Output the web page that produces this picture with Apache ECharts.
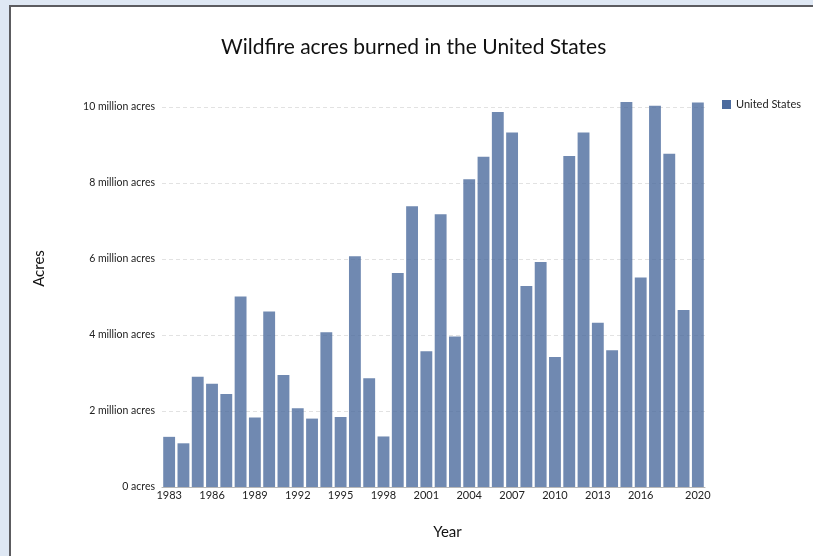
<!DOCTYPE html>
<html>
<head>
<meta charset="utf-8">
<script src="https://cdn.jsdelivr.net/npm/echarts@6/dist/echarts.min.js"></script>
<style>
  html, body { margin: 0; padding: 0; width: 813px; height: 556px; overflow: hidden; background: #dfe8f4; }
  #panel { position: absolute; left: 9px; top: 5px; width: 900px; height: 700px; background: #fff;
           border-left: 2px solid #5c5c60; border-top: 2px solid #5c5c60; }
  #chart { position: absolute; left: 0; top: 0; width: 813px; height: 556px; }
</style>
</head>
<body>
<div id="panel"></div>
<div id="chart"></div>
<script>
// Acres burned per year (millions)
const years = ['1983','1984','1985','1986','1987','1988','1989','1990','1991','1992',
  '1993','1994','1995','1996','1997','1998','1999','2000','2001','2002',
  '2003','2004','2005','2006','2007','2008','2009','2010','2011','2012',
  '2013','2014','2015','2016','2017','2018','2019','2020'];
const acresMillions = [1.32, 1.15, 2.90, 2.72, 2.45, 5.01, 1.83, 4.62, 2.95, 2.07,
  1.80, 4.07, 1.84, 6.07, 2.86, 1.33, 5.63, 7.39, 3.57, 7.18,
  3.96, 8.10, 8.69, 9.87, 9.33, 5.29, 5.92, 3.42, 8.71, 9.33,
  4.32, 3.60, 10.13, 5.51, 10.03, 8.77, 4.66, 10.12];
const yTicks = [0, 2, 4, 6, 8, 10];
const shownYearLabels = ['1983','1986','1989','1992','1995','1998','2001','2004',
  '2007','2010','2013','2016','2020'];

const seriesName = 'United States';
const font = 'Lato, "Open Sans", sans-serif';

const chart = echarts.init(document.getElementById('chart'));
const showYear = (i) => shownYearLabels.indexOf(years[i]) !== -1;

chart.setOption({
  animation: false,
  textStyle: { fontFamily: font },
  title: {
    text: 'Wildfire acres burned in the United States',
    left: 216,
    top: 32,
    textStyle: { fontFamily: font, fontSize: 21, fontWeight: 'normal', color: '#111' }
  },
  legend: {
    data: [seriesName],
    left: 722,
    top: 99,
    padding: 0,
    icon: 'rect',
    itemWidth: 9,
    itemHeight: 9,
    itemGap: 5,
    itemStyle: { opacity: 1 },
    textStyle: { fontFamily: font, fontSize: 11, color: '#222' }
  },
  grid: { left: 162, right: 108, top: 50, bottom: 69, containLabel: false },
  xAxis: {
    type: 'category',
    data: years,
    name: 'Year',
    nameLocation: 'middle',
    nameGap: 38,
    nameTextStyle: { fontFamily: font, fontSize: 15, color: '#111', padding: [0, 0, 0, 28] },
    axisLine: { lineStyle: { color: '#b8b8b8', width: 1 } },
    axisTick: { alignWithLabel: true, length: 4, interval: (i) => showYear(i), lineStyle: { color: '#b8b8b8' } },
    axisLabel: { interval: (i) => showYear(i), fontSize: 11, color: '#222', margin: 3, fontFamily: font },
    splitLine: { show: false }
  },
  yAxis: {
    type: 'value',
    min: 0,
    max: 11.5,
    interval: 2,
    name: 'Acres',
    nameLocation: 'middle',
    nameGap: 115,
    nameTextStyle: { fontFamily: font, fontSize: 15, color: '#111' },
    axisLine: { show: false },
    axisTick: { show: false },
    axisLabel: {
      fontSize: 10.5, color: '#222', margin: 7, fontFamily: font, showMaxLabel: false,
      formatter: (v) => yTicks.indexOf(v) === -1 ? '' : (v === 0 ? '0 acres' : v + ' million acres')
    },
    splitLine: { show: true, showMaxLine: false, lineStyle: { color: '#e2e2e2', type: [4, 3], width: 1 } }
  },
  series: [{
    name: seriesName,
    type: 'bar',
    data: acresMillions,
    barCategoryGap: '17%',
    itemStyle: { color: '#4c6b9e', opacity: 0.8 }
  }]
});
</script>
</body>
</html>
